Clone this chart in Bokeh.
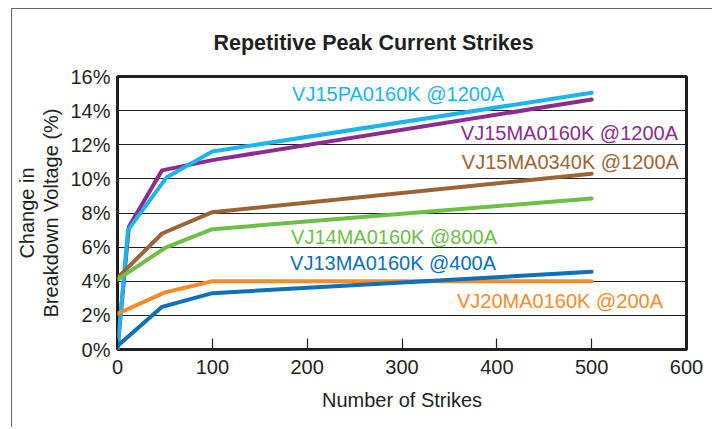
from bokeh.plotting import figure
from bokeh.models import Range1d, FixedTicker, Label
from bokeh.embed import file_html
from bokeh.resources import INLINE

# ---- data ----
title_text = "Repetitive Peak Current Strikes"
x_label = "Number of Strikes"
y_label = "Change in\nBreakdown Voltage (%)"
x_ticks = [0, 100, 200, 300, 400, 500, 600]
y_ticks = [0, 2, 4, 6, 8, 10, 12, 14, 16]

series_names = ["VJ15MA0160K @1200A", "VJ15PA0160K @1200A", "VJ15MA0340K @1200A",
                "VJ14MA0160K @800A", "VJ20MA0160K @200A", "VJ13MA0160K @400A"]
x_purple = [0, 12, 47, 100, 500]
y_purple = [0, 7.2, 10.5, 11.1, 14.65]
x_cyan = [0, 11, 52, 100, 500]
y_cyan = [0, 7.0, 10.1, 11.6, 15.05]
x_brown = [0, 47, 100, 500]
y_brown = [4.2, 6.8, 8.05, 10.3]
x_green = [0, 50, 100, 500]
y_green = [4.1, 5.95, 7.05, 8.85]
x_orange = [0, 50, 100, 500]
y_orange = [2.1, 3.35, 4.0, 4.0]
x_blue = [0, 47, 100, 500]
y_blue = [0.2, 2.5, 3.3, 4.55]

# ---- styles / layout ----
colors = ["#8B2C8E", "#1CB5EB", "#9C6434", "#6DBF46", "#F68B2A", "#0E6FBA"]
label_x = [591, 296, 592, 183, 358, 182]
label_y = [12.7, 14.98, 10.98, 6.58, 2.85, 5.08]
label_align = ["right", "center", "right", "left", "left", "left"]

FONT = "Liberation Sans"

p = figure(width=701, height=419, output_backend="svg", toolbar_location=None,
           x_range=Range1d(0, 600), y_range=Range1d(0, 16),
           min_border_left=105, min_border_right=27, min_border_top=67,
           min_border_bottom=79, background_fill_color="white",
           border_fill_color="white")
p.margin = (8, 0, 0, 11)
p.styles = {"border-top": "1.2px solid #666666", "border-left": "1.2px solid #666666"}

p.title.text = title_text
p.title.align = "left"
p.title.vertical_align = "top"
p.title.text_font = FONT
p.title.text_font_size = "21.5px"
p.title.text_font_style = "bold"
p.title.text_color = "#231F20"
p.title.offset = 96
p.title.standoff = 40

p.outline_line_color = "#231F20"
p.outline_line_width = 3

p.xgrid.grid_line_color = None
p.ygrid.ticker = FixedTicker(ticks=y_ticks)
p.ygrid.grid_line_color = "#231F20"
p.ygrid.grid_line_width = 1.2

p.xaxis.ticker = FixedTicker(ticks=x_ticks)
p.yaxis.ticker = FixedTicker(ticks=y_ticks)
p.yaxis.major_label_overrides = {t: f"{t}%" for t in y_ticks}
for ax in (p.xaxis, p.yaxis):
    ax.axis_line_color = None
    ax.minor_tick_line_color = None
    ax.major_label_text_font = FONT
    ax.major_label_text_font_size = "20px"
    ax.major_label_text_color = "#231F20"
    ax.axis_label_text_font = FONT
    ax.axis_label_text_font_size = "20px"
    ax.axis_label_text_font_style = "normal"
    ax.axis_label_text_color = "#231F20"
p.xaxis.major_tick_in = 11
p.xaxis.major_tick_out = 0
p.xaxis.major_tick_line_color = "#231F20"
p.xaxis.major_tick_line_width = 1.2
p.xaxis.major_label_standoff = 10
p.xaxis.axis_label = x_label
p.xaxis.axis_label_standoff = 12
p.yaxis.major_tick_in = 0
p.yaxis.major_tick_out = 0
p.yaxis.major_tick_line_color = None
p.yaxis.major_label_standoff = 7
p.yaxis.axis_label = y_label
p.yaxis.axis_label_standoff = 5
p.yaxis.axis_label_text_line_height = 1.1

xs = [x_purple, x_cyan, x_brown, x_green, x_orange, x_blue]
ys = [y_purple, y_cyan, y_brown, y_green, y_orange, y_blue]
for xv, yv, c in zip(xs, ys, colors):
    p.line(xv, yv, line_color=c, line_width=4, line_cap="round", line_join="round")

for name, c, lx, ly, al in zip(series_names, colors, label_x, label_y, label_align):
    p.add_layout(Label(x=lx, y=ly, text=name, text_color=c, text_font=FONT,
                       text_font_size="20px", text_align=al,
                       text_baseline="middle"))

open("out.html", "w").write(file_html(p, INLINE))
